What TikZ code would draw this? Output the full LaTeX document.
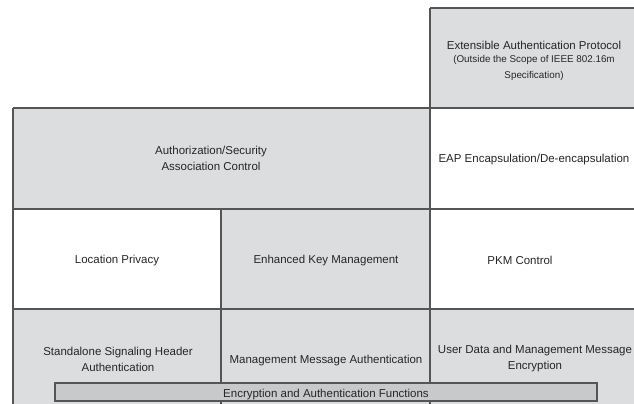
\documentclass[tikz,border=0pt]{standalone}
\usepackage{fontspec}
\setmainfont{Liberation Sans}
\usetikzlibrary{positioning}
\definecolor{cellgray}{HTML}{DCDDDF}
\definecolor{bargray}{HTML}{C8C9CB}
\definecolor{rulegray}{HTML}{555555}

\begin{document}
\begin{tikzpicture}[x=0.03cm,y=-0.03cm,
    lbl/.style={align=center, inner sep=0pt, text=black!85,
      font=\fontsize{9.8}{13.7}\selectfont},
    note/.style={lbl, font=\fontsize{8.4}{13.9}\selectfont},
    hrule/.style={draw=rulegray, line width=1.2pt},
    vrule/.style={draw=rulegray, line width=0.9pt}]
    \useasboundingbox (0,0) rectangle (634,404);
    % grid corners
    \coordinate (tl) at (430,8);
    \coordinate (tr) at (634,8);
    \coordinate (r1l) at (13,108);
    \coordinate (r1r) at (634,108);
    \coordinate (r2l) at (13,209);
    \coordinate (r2m) at (221,209);
    \coordinate (r2r) at (634,209);
    \coordinate (r3l) at (13,309);
    \coordinate (r3r) at (634,309);
    \coordinate (bl) at (13,404);
    \coordinate (bm) at (221,404);
    \coordinate (bc) at (430,404);
    % shaded cells
    \fill[cellgray] (tl) rectangle (r1r);
    \fill[cellgray] (r1l) rectangle (430,209);
    \fill[cellgray] (r2m) rectangle (430,309);
    \fill[cellgray] (r3l) rectangle (634,404);
    % rules
    \draw[hrule] (tl) -- (tr);
    \draw[hrule] (r1l) -- (r1r);
    \draw[hrule] (r2l) -- (r2r);
    \draw[hrule] (r3l) -- (r3r);
    \draw[vrule] (r1l) -- (bl);
    \draw[vrule] (r2m) -- (bm);
    \draw[vrule] (tl) -- (bc);
    % labels
    \node[lbl] (eap) at (534,45) {Extensible Authentication Protocol};
    \node[note, below=4.5pt of eap] (scope) {(Outside the Scope of IEEE 802.16m\\Specification)};
    \node[lbl] (auth) at (211,158.5) {Authorization/Security\\Association Control};
    \node[lbl] (encap) at (534,160) {EAP Encapsulation/De-encapsulation};
    \node[lbl] (loc) at (117,260.5) {Location Privacy};
    \node[lbl] (ekm) at (326,260.5) {Enhanced Key Management};
    \node[lbl] (pkm) at (520,260.5) {PKM Control};
    \node[lbl] (sshdr) at (118,359) {Standalone Signaling Header\\Authentication};
    \node[lbl] (mma) at (326,360.5) {Management Message Authentication};
    \node[lbl] (udme) at (535,358.5) {User Data and Management Message\\Encryption};
    \node[lbl, fill=bargray, draw=rulegray, line width=0.9pt,
      text height=9pt, text depth=0pt,
      minimum width=16.26cm, minimum height=0.54cm] (eaf) at (326,392)
      {Encryption and Authentication Functions};
\end{tikzpicture}
\end{document}
